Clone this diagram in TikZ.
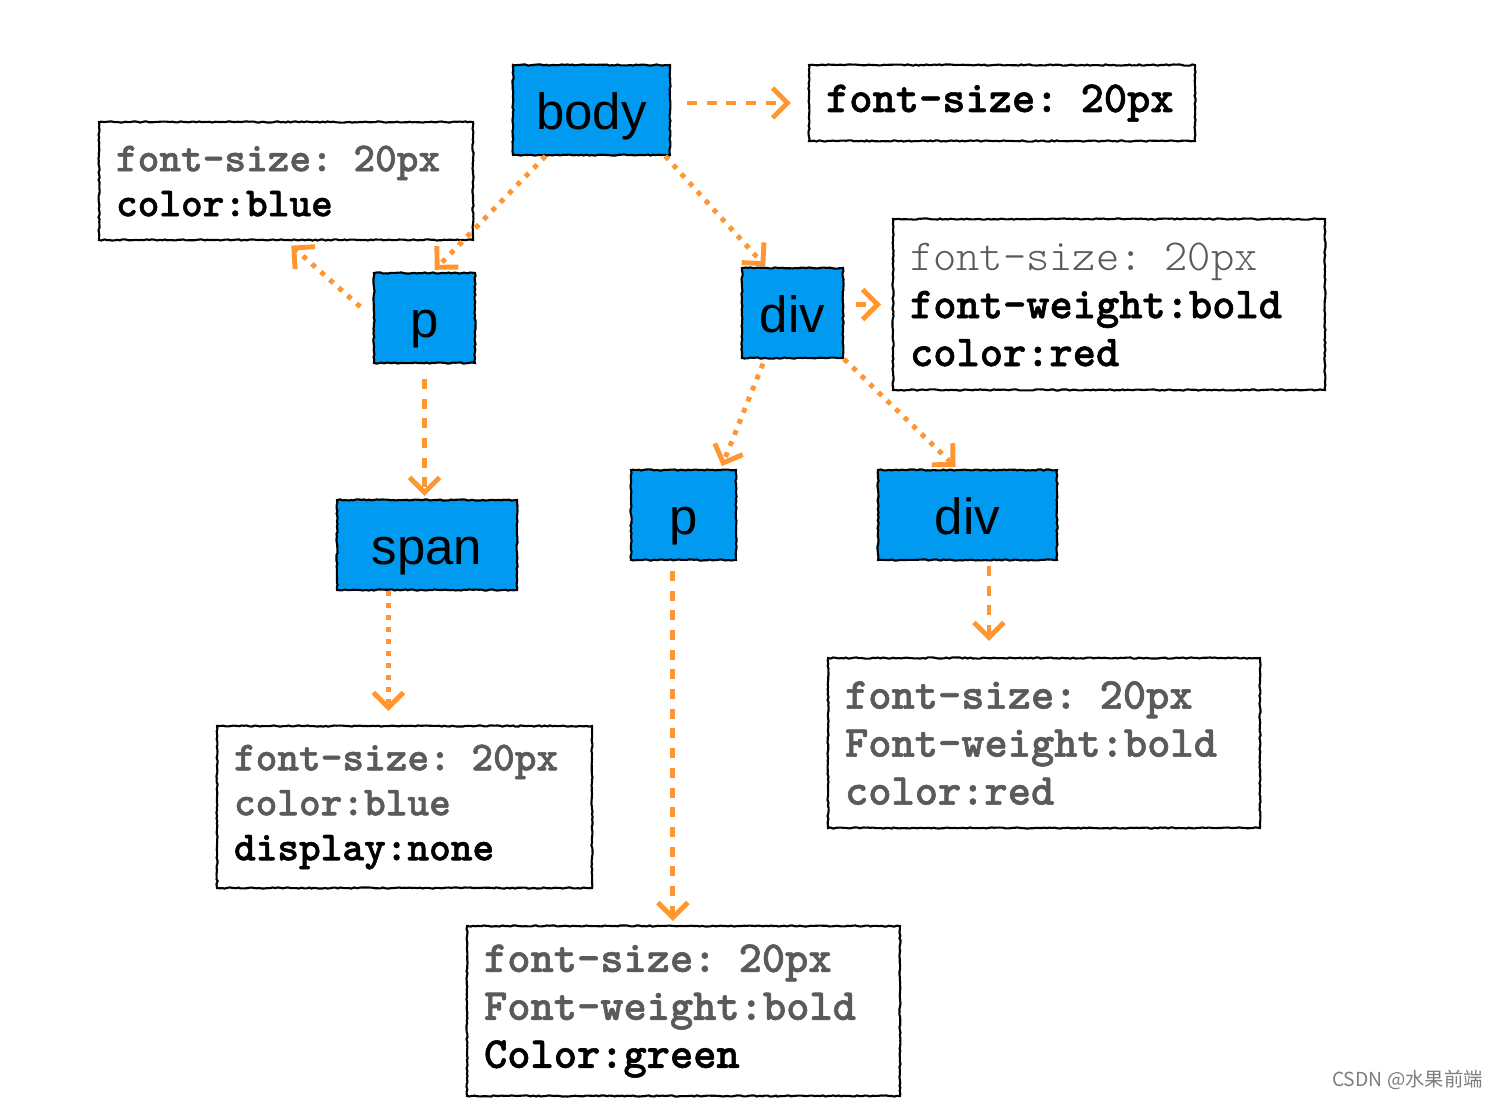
\documentclass[tikz,border=0pt]{standalone}
\usepackage{fontspec}
\setmainfont{Liberation Sans}
\newfontfamily\codefont{Latin Modern Mono Light}[BoldFeatures = {FakeBold = 1.3}]
\newfontfamily\cjkfont{Noto Sans CJK SC}
\usetikzlibrary{positioning, calc, arrows.meta, decorations.pathmorphing}
\definecolor{tagblue}{RGB}{0,155,240}
\definecolor{linkorange}{RGB}{255,150,50}
\definecolor{inherited}{RGB}{90,90,90}
\definecolor{watermark}{RGB}{125,125,125}
\newcommand{\inh}[1]{\textcolor{inherited}{#1}}
\tikzset{
  > = {Straight Barb[length = 3mm, width = 6mm]},
  sketch/.style = {draw, line width = 1.2pt, decorate,
    decoration = {random steps, segment length = 1.5pt, amplitude = 0.35pt}},
  element/.style = {sketch, fill = tagblue, inner sep = 0pt,
    text height = 0.95cm, text depth = 0.15cm,
    minimum height = 1.8cm, font = \fontsize{29pt}{34pt}\selectfont},
  styles/.style n args = {2}{sketch, fill = white, align = left,
    text width = #1, minimum height = #2, inner xsep = 0.34cm, inner ysep = 0pt,
    font = \codefont\bfseries\fontsize{25.2pt}{27.3pt}\selectfont},
  smallcode/.style = {font = \codefont\bfseries\fontsize{23.5pt}{25.6pt}\selectfont},
  computed/.style = {->, color = linkorange, line width = 2.8pt,
    dash pattern = on 5.7pt off 5.5pt},
  tree/.style = {->, color = linkorange, line width = 2.8pt,
    dash pattern = on 2.8pt off 4pt}
}

\begin{document}
\begin{tikzpicture}[x = 0.02cm, y = -0.02cm]
\useasboundingbox (0,0) rectangle (1498,1098);

%% Elements
\node [element, minimum width = 3.14cm] (body) at (591.5,110) {body};
\node [element, minimum width = 2.02cm] (p1) at (424.5,318) {p};
\node [element, minimum width = 2.02cm] (div1) at (792.5,313) {div};
\node [element, minimum width = 3.6cm] (span) at (427,545) {span};
\node [element, minimum width = 2.1cm] (p2) at (683.5,515) {p};
\node [element, minimum width = 3.58cm] (div2) at (967.5,515) {div};

%% Computed styles
\node [styles = {7.04cm}{1.52cm}] (bodybox) at (1002,103) {font-size: 20px};
\node [styles = {6.8cm}{2.36cm}, smallcode] (pbox) at (286,181)
  {\inh{font-size: 20px}\\color:blue};
\node [styles = {7.96cm}{3.42cm}] (divbox) at (1109,304.5)
  {{\mdseries\inh{font-size: 20px}}\\font-weight:bold\\color:red};
\node [styles = {6.82cm}{3.24cm}, smallcode] (spanbox) at (404.5,807)
  {\inh{font-size: 20px}\\\inh{color:blue}\\display:none};
\node [styles = {7.98cm}{3.4cm}] (p2box) at (683.5,1011)
  {\inh{font-size: 20px}\\\inh{Font-weight:bold}\\Color:green};
\node [styles = {7.96cm}{3.4cm}] (div2box) at (1044,743)
  {\inh{font-size: 20px}\\\inh{Font-weight:bold}\\\inh{color:red}};

%% Tree
\path [tree] (body.225) edge [shorten > = 0.6mm] (p1.80)
             (body.-32) edge [shorten > = 0.2mm] (div1.120)
             (p1.west) edge [shorten < = 3.4mm, shorten > = 1.4mm] (pbox.south)
             (span.-130) edge [shorten > = 2.8mm] (span.-130 |- spanbox.north)
             (div1.-121) edge [shorten < = 1mm, shorten > = 0.6mm] (p2.51)
             (div1.south east) edge [shorten > = 0.6mm] (div2.102);

%% Style arrows
\path [computed] (body.east |- bodybox.west) edge [shorten < = 3.2mm, shorten > = 3.4mm] (bodybox.west)
                 (p1.south) edge [shorten < = 3mm, shorten > = 0.6mm] (p1.south |- span.north)
                 (div1.east |- divbox.west) edge [shorten < = 2.4mm, shorten > = 2.2mm] (divbox.west)
                 (p2.-103) edge [shorten < = 2mm, shorten > = 0.8mm] (p2.-103 |- p2box.north)
                 (div2.-65) edge [shorten < = 1mm, shorten > = 3.2mm] (div2.-65 |- div2box.north);

%% Watermark
\node [font = \cjkfont\fontsize{11pt}{13pt}\selectfont, text = watermark,
  inner sep = 0pt, anchor = east] (mark) at (1483,1080) {CSDN @水果前端};

\end{tikzpicture}
\end{document}
